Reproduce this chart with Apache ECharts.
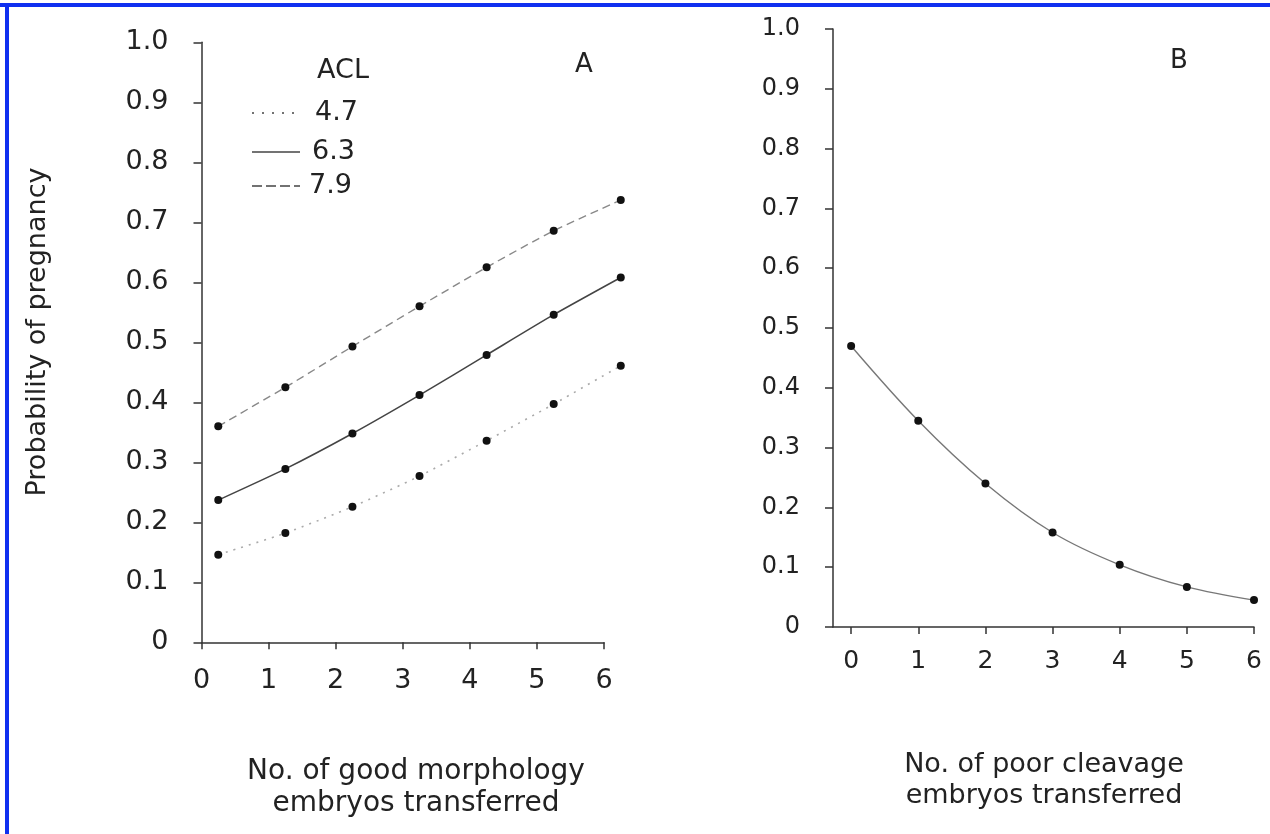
<!DOCTYPE html>
<html>
<head>
<meta charset="utf-8">
<script src="https://cdn.jsdelivr.net/npm/echarts@6.0.0/dist/echarts.min.js"></script>
<style>
html,body{margin:0;padding:0;background:#fff;}
#chart{width:1270px;height:834px;}
</style>
</head>
<body>
<div id="chart"></div>
<script>
// ---- data ----
const xGood = [0.25, 1.25, 2.25, 3.25, 4.25, 5.25, 6.25];
const aclLabels = ['4.7', '6.3', '7.9'];
const probA47 = [0.146, 0.182, 0.226, 0.277, 0.336, 0.397, 0.461];
const probA63 = [0.237, 0.289, 0.348, 0.412, 0.479, 0.546, 0.608];
const probA79 = [0.360, 0.425, 0.493, 0.560, 0.625, 0.686, 0.737];
const xPoor = [0, 1, 2, 3, 4, 5, 6];
const probB = [0.47, 0.345, 0.24, 0.158, 0.104, 0.067, 0.045];
const xTickValues = [0, 1, 2, 3, 4, 5, 6];
const titleA = ['No. of good morphology', 'embryos transferred'];
const titleB = ['No. of poor cleavage', 'embryos transferred'];
const yName = 'Probability of pregnancy';

const FONT = 'DejaVu Sans';
const TXT = '#222';
const AX = '#333';

function zip(xs, ys) { return xs.map((x, i) => [x, ys[i]]); }
function yFmt(v) { return Math.abs(v) < 1e-9 ? '0' : v.toFixed(1); }

const lineStyles = [
  { color: '#aaa', type: [2, 6], width: 1.6 },   // 4.7 dotted
  { color: '#444', type: 'solid', width: 1.5 },  // 6.3 solid
  { color: '#888', type: [8, 5], width: 1.4 }    // 7.9 dashed
];
const legendDash = [[2, 8], null, [10, 4]];
const legendY = [113, 152, 186];
const legendTextX = [315, 312, 309];

// panel A geometry: visible axis spans 0..6, marks extend to 6.3
const aLeft = 201.5, aTop = 42.3, aWidth = 402.5, aHeight = 600;
const aAxisMax = 6, aMarkMax = 6.3;

function xAxisCommon(extra) {
  return Object.assign({
    type: 'value',
    axisLine: { show: true, onZero: true, lineStyle: { color: AX, width: 1.5 } },
    axisTick: { show: true, inside: false, length: 7, lineStyle: { color: AX, width: 1.5 } },
    splitLine: { show: false },
    axisLabel: { color: TXT, fontFamily: FONT }
  }, extra);
}
function yAxisCommon(extra) {
  return Object.assign({
    type: 'value', min: 0, max: 1, interval: 0.1,
    axisLine: { show: true, onZero: false, lineStyle: { color: AX, width: 1.5 } },
    axisTick: { show: true, inside: false, length: 8, lineStyle: { color: AX, width: 1.5 } },
    splitLine: { show: false }
  }, extra);
}

const seriesA = [probA47, probA63, probA79].map((vals, i) => ({
  name: aclLabels[i],
  type: 'line',
  xAxisIndex: 2, yAxisIndex: 2,
  data: zip(xGood, vals),
  smooth: 0.2,
  clip: false,
  symbol: 'circle', symbolSize: 8, showAllSymbol: true,
  itemStyle: { color: '#111' },
  lineStyle: lineStyles[i],
  z: 3
}));

const seriesB = {
  type: 'line',
  xAxisIndex: 1, yAxisIndex: 1,
  data: zip(xPoor, probB),
  smooth: 0.35,
  clip: false,
  symbol: 'circle', symbolSize: 8, showAllSymbol: true,
  itemStyle: { color: '#111' },
  lineStyle: { color: '#777', width: 1.4 },
  z: 3
};

const graphics = [
  { type: 'rect', shape: { x: 0, y: 3, width: 1270, height: 4 }, style: { fill: '#0f2ff0' }, z: 10 },
  { type: 'rect', shape: { x: 5, y: 3, width: 4, height: 831 }, style: { fill: '#0f2ff0' }, z: 10 }
];
function addText(text, x, y, size, align, rotation) {
  graphics.push({
    type: 'text', x: x, y: y, rotation: rotation || 0,
    style: { text: text, x: 0, y: 0, fill: TXT, font: size + 'px "' + FONT + '"',
             fontSize: size, fontFamily: FONT,
             textAlign: align, align: align, textVerticalAlign: 'middle', verticalAlign: 'middle' }
  });
}
addText(titleA[0], 416, 772, 28, 'center');
addText(titleA[1], 416, 804, 28, 'center');
addText(titleB[0], 1044, 765, 27, 'center');
addText(titleB[1], 1044, 796, 27, 'center');
addText(yName, 38, 332, 27, 'center', Math.PI / 2);
addText('A', 584, 65, 26, 'center');
addText('B', 1179, 61, 26, 'center');
addText('ACL', 343, 71, 27, 'center');
aclLabels.forEach((lab, i) => {
  graphics.push({
    type: 'line',
    shape: { x1: 252, y1: legendY[i], x2: 300, y2: legendY[i] },
    style: { stroke: '#444', lineWidth: 1.5, lineDash: legendDash[i] }
  });
  addText(lab, legendTextX[i], legendY[i], 27, 'left');
});

const option = {
  animation: false,
  backgroundColor: '#fff',
  grid: [
    { left: aLeft, top: aTop, width: aWidth, height: aHeight, containLabel: false, outerBoundsMode: 'none' },
    { left: 833, top: 29, width: 421, height: 598, containLabel: false, outerBoundsMode: 'none' },
    { left: aLeft, top: aTop, width: aWidth * aMarkMax / aAxisMax, height: aHeight, containLabel: false, outerBoundsMode: 'none' }
  ],
  xAxis: [
    xAxisCommon({ gridIndex: 0, min: 0, max: aAxisMax, interval: 1,
      axisLabel: { color: TXT, fontFamily: FONT, fontSize: 27, margin: 25 } }),
    xAxisCommon({ gridIndex: 1, min: -0.27, max: 6,
      axisTick: { show: true, inside: false, length: 7, customValues: xTickValues, lineStyle: { color: AX, width: 1.5 } },
      axisLabel: { color: TXT, fontFamily: FONT, fontSize: 25, margin: 22, customValues: xTickValues } }),
    { type: 'value', gridIndex: 2, min: 0, max: aMarkMax, show: false }
  ],
  yAxis: [
    yAxisCommon({ gridIndex: 0,
      axisLabel: { color: TXT, fontFamily: FONT, fontSize: 27, margin: 33, formatter: yFmt } }),
    yAxisCommon({ gridIndex: 1,
      axisLabel: { color: TXT, fontFamily: FONT, fontSize: 24, margin: 33, formatter: yFmt } }),
    { type: 'value', gridIndex: 2, min: 0, max: 1, show: false }
  ],
  series: seriesA.concat([seriesB]),
  graphic: graphics
};

const chart = echarts.init(document.getElementById('chart'), null, { renderer: 'canvas' });
chart.setOption(option);
</script>
</body>
</html>
